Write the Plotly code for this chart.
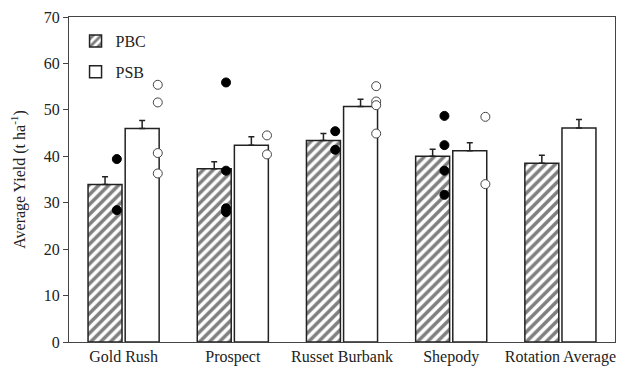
import plotly.graph_objects as go

categories = ["Gold Rush", "Prospect", "Russet Burbank", "Shepody", "Rotation Average"]
pbc_mean = [33.9, 37.3, 43.4, 40.0, 38.5]
pbc_se = [1.7, 1.5, 1.5, 1.5, 1.7]
psb_mean = [46.0, 42.4, 50.7, 41.2, 46.1]
psb_se = [1.7, 1.8, 1.6, 1.7, 1.8]

# individual replicate values (no replicates shown for Rotation Average)
pbc_points = [[39.4, 28.4], [55.9, 36.9, 28.8, 28.0], [45.4, 41.4], [48.7, 42.4, 36.9, 31.7], []]
psb_points = [[55.4, 51.6, 40.7, 36.3], [44.5, 40.4], [55.1, 51.8, 51.0, 44.9], [48.5, 34.0], []]

font_family = "Liberation Serif, Times New Roman, serif"
idx = list(range(len(categories)))

fig = go.Figure()
fig.add_trace(go.Bar(
    x=idx, y=pbc_mean, name="PBC", legendgroup="a",
    marker=dict(color="white", line=dict(color="#222", width=1.5),
                pattern=dict(shape="/", size=7, solidity=0.5, fgcolor="#000", bgcolor="white")),
    error_y=dict(type="data", array=pbc_se, symmetric=False, arrayminus=[0]*5,
                 color="#222", thickness=1.5, width=3),
))
fig.add_trace(go.Bar(
    x=idx, y=psb_mean, name="PSB", legendgroup="b",
    marker=dict(color="white", line=dict(color="#222", width=1.5)),
    error_y=dict(type="data", array=psb_se, symmetric=False, arrayminus=[0]*5,
                 color="#222", thickness=1.5, width=3),
))

px_pbc, py_pbc, px_psb, py_psb = [], [], [], []
for i in idx:
    for v in pbc_points[i]:
        px_pbc.append(i - 0.062); py_pbc.append(v)
    for v in psb_points[i]:
        px_psb.append(i + 0.313); py_psb.append(v)

fig.add_trace(go.Scatter(x=px_pbc, y=py_pbc, mode="markers", showlegend=False,
                         marker=dict(size=9, color="black", line=dict(color="black", width=1))))
fig.add_trace(go.Scatter(x=px_psb, y=py_psb, mode="markers", showlegend=False,
                         marker=dict(size=9, color="white", line=dict(color="#444", width=1))))

fig.update_layout(
    width=619, height=372,
    margin=dict(l=69, r=4, t=17, b=30),
    plot_bgcolor="white", paper_bgcolor="white",
    barmode="group", bargap=0.32, bargroupgap=0.085,
    font=dict(family=font_family, size=16, color="#222"),
    showlegend=True,
    legend=dict(x=0.012, y=0.978, xanchor="left", yanchor="top", bgcolor="rgba(0,0,0,0)",
                font=dict(size=16), tracegroupgap=7, itemwidth=30),
    xaxis=dict(range=[-0.5, 4.5], tickvals=idx, ticktext=categories, showgrid=False,
               showline=True, linecolor="#444", linewidth=1, mirror=True, ticks="",
               zeroline=False, tickfont=dict(size=16)),
    yaxis=dict(range=[0, 70], dtick=10, showgrid=False, showline=True, linecolor="#444",
               linewidth=1, mirror=True, ticks="outside", ticklen=5, tickcolor="#444",
               zeroline=False, tickfont=dict(size=16),
               title=dict(text="Average Yield (t ha<sup>-1</sup>)", font=dict(size=16), standoff=14)),
)

fig.write_html("out.html", config={"displayModeBar": False},
               post_script="document.body.style.margin='0px';")
